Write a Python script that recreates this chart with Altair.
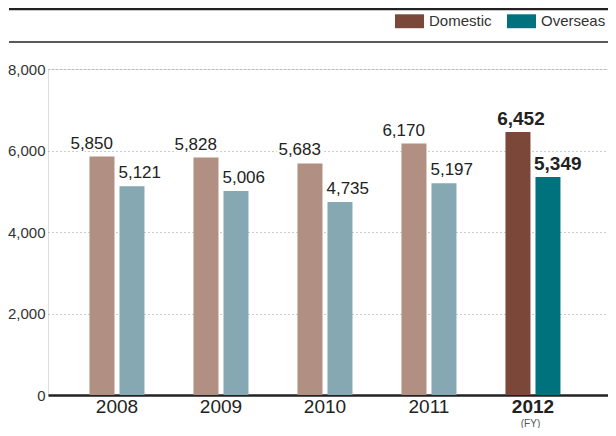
import altair as alt
import pandas as pd

years = ["2008", "2009", "2010", "2011", "2012"]
domestic = [5850, 5828, 5683, 6170, 6452]
overseas = [5121, 5006, 4735, 5197, 5349]
highlight_year = "2012"
series_names = ["Domestic", "Overseas"]
y_ticks = [0, 2000, 4000, 6000, 8000]

rows = []
for yr, d, o in zip(years, domestic, overseas):
    for s, v in ((series_names[0], d), (series_names[1], o)):
        hl = yr == highlight_year
        rows.append({
            "year": yr,
            "series": s,
            "value": v,
            "key": s if hl else s + " (prior)",
            "label": f"{v:,}",
            "hl": hl,
        })
df = pd.DataFrame(rows)

FONT = "Liberation Sans"
DARK = "#222222"
W, H = 560, 326

color_scale = alt.Scale(
    domain=["Domestic", "Overseas", "Domestic (prior)", "Overseas (prior)"],
    range=["#7A4739", "#00727E", "#B18F82", "#86A8B2"],
)

x_enc = alt.X(
    "year:N",
    sort=years,
    scale=alt.Scale(paddingInner=0.471, paddingOuter=0.4279, align=0.466),
    axis=alt.Axis(
        title="(FY)",
        titleFontSize=10,
        titleFontWeight="normal",
        titleColor="#555555",
        titleFont=FONT,
        titleX=482,
        titleY=31,
        titleAlign="center",
        titleBaseline="alphabetic",
        labelAngle=0,
        labelFont=FONT,
        labelFontSize=19,
        labelColor=DARK,
        labelPadding=2,
        labelFontWeight={"expr": "datum.label == '2012' ? 'bold' : 'normal'"},
        ticks=False,
        domain=True,
        domainColor=DARK,
        domainWidth=2.5,
        grid=False,
    ),
)
xoff_enc = alt.XOffset(
    "series:N",
    scale=alt.Scale(domain=series_names, paddingInner=0.1667, paddingOuter=0),
)
y_enc = alt.Y(
    "value:Q",
    scale=alt.Scale(domain=[0, 8000], nice=False),
    axis=alt.Axis(
        title=None,
        values=y_ticks,
        format=",d",
        labelFont=FONT,
        labelFontSize=15,
        labelColor="#333333",
        labelPadding=3,
        ticks=False,
        domain=False,
        grid=True,
        gridColor="#999999",
        gridDash=[1, 3],
        gridWidth=1,
    ),
)

base = alt.Chart(df).encode(x=x_enc, xOffset=xoff_enc, y=y_enc)

bars = base.mark_bar().encode(
    color=alt.Color(
        "key:N",
        scale=color_scale,
        legend=alt.Legend(
            title=None,
            values=series_names,
            orient="none",
            direction="horizontal",
            legendX=347,
            legendY=-62.5,
            padding=0,
            symbolType="M-1,-0.48L1,-0.48L1,0.48L-1,0.48Z",
            symbolSize=841,
            symbolStrokeWidth=0,
            labelFont=FONT,
            labelFontSize=15,
            labelColor="#333333",
            labelOffset=5,
            columnPadding=15,
        ),
    )
)


def labels(series, hl, align, dx, dy, size, weight):
    flt = (alt.datum.series == series) & (alt.datum.hl == hl)
    halo = base.transform_filter(flt).mark_text(
        align=align, baseline="alphabetic", dx=dx, dy=dy, font=FONT,
        fontSize=size, fontWeight=weight, stroke="white", strokeWidth=4,
        fill="white",
    ).encode(text="label:N")
    txt = base.transform_filter(flt).mark_text(
        align=align, baseline="alphabetic", dx=dx, dy=dy, font=FONT,
        fontSize=size, fontWeight=weight, color=DARK,
    ).encode(text="label:N")
    return [halo, txt]


text_layers = (
    labels("Domestic", False, "right", 11, -8, 17, "normal")
    + labels("Overseas", False, "left", -13.5, -8, 17, "normal")
    + labels("Domestic", True, "center", 3, -7, 19, "bold")
    + labels("Overseas", True, "left", -14, -7, 19, "bold")
)

one = pd.DataFrame({"v": [0]})
top_rule = alt.Chart(one).mark_rule(color=DARK, strokeWidth=2.5).encode(
    x=alt.value(-39), x2=alt.value(W), y=alt.value(-60)
)
mid_rule = alt.Chart(one).mark_rule(color=DARK, strokeWidth=1.5).encode(
    x=alt.value(-39), x2=alt.value(W), y=alt.value(-27)
)

chart = alt.layer(bars, *text_layers, top_rule, mid_rule).properties(
    width=W,
    height=H,
    autosize=alt.AutoSizeParams(type="none"),
    padding={"left": 40, "top": 61, "right": 0, "bottom": 33},
).configure_view(stroke=None).configure(background="white")

chart.save("out.html", embed_options={"renderer": "svg", "actions": False})
